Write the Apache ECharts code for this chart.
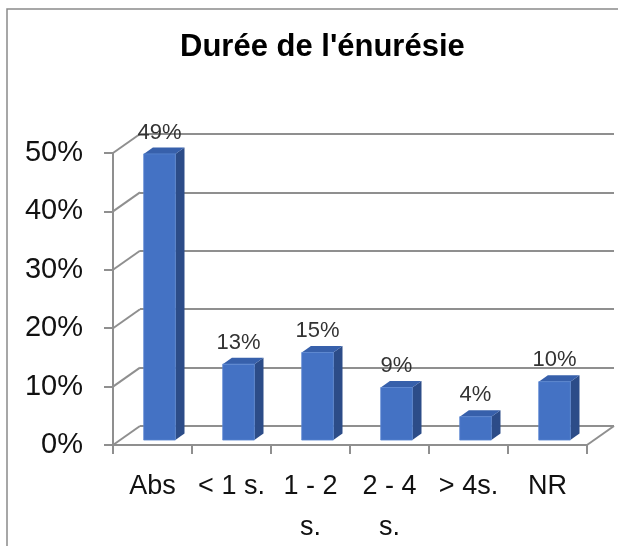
<!DOCTYPE html>
<html>
<head>
<meta charset="utf-8">
<script src="https://cdn.jsdelivr.net/npm/echarts@6/dist/echarts.min.js"></script>
<style>
  html, body { margin: 0; padding: 0; background: #fff; }
  #main { width: 618px; height: 546px; }
</style>
</head>
<body>
<div id="main"></div>
<script>
// data
const categories = ['Abs', '< 1 s.', '1 - 2\ns.', '2 - 4\ns.', '> 4s.', 'NR'];
const values = [49, 13, 15, 9, 4, 10];
const yTicks = [0, 10, 20, 30, 40, 50];

// depth of the 3d box (front plane -> back wall)
const DX = 27, DY = -19;
const gridColor = '#8f8f8f';

const chart = echarts.init(document.getElementById('main'));

function renderBar(params, api) {
  const i = api.value(0), v = api.value(1);
  const band = api.size([1, 0])[0];
  const base = api.coord([i, 0]);
  const top = api.coord([i, v]);
  const w = band * 0.4;
  const x0 = base[0] - w / 2 + DX * 0.26, x1 = x0 + w;
  const yb = base[1] + DY * 0.26, yt = top[1] + DY * 0.26;
  const ox = DX * 0.34, oy = DY * 0.34;
  return {
    type: 'group',
    children: [
      { type: 'polygon', shape: { points: [[x1, yt], [x1 + ox, yt + oy], [x1 + ox, yb + oy], [x1, yb]] },
        style: { fill: '#2c4c88' } },
      { type: 'polygon', shape: { points: [[x0, yt], [x1, yt], [x1 + ox, yt + oy], [x0 + ox, yt + oy]] },
        style: { fill: '#3760ab' } },
      { type: 'rect', shape: { x: x0, y: yt, width: w, height: yb - yt },
        style: { fill: '#4472c4', stroke: '#5b86d2', lineWidth: 0.8 } },
      { type: 'text', x: (x0 + x1) / 2, y: yt + oy - 4,
        style: { text: v + '%', align: 'center', verticalAlign: 'bottom',
                 fontSize: 22, fontFamily: 'Liberation Sans', fill: '#333' } }
    ]
  };
}

// side wall diagonals and floor edge, from the front axis ticks back to the wall
function renderWalls(params, api) {
  const v = api.value(0);
  const band = api.size([1, 0])[0];
  const p = api.coord([0, v]);
  const xl = p[0] - band / 2;
  const lines = [
    { type: 'line', shape: { x1: xl, y1: p[1], x2: xl + DX, y2: p[1] + DY },
      style: { stroke: gridColor, lineWidth: 2 } }
  ];
  if (v === 0) {
    const q = api.coord([categories.length - 1, 0]);
    const xr = q[0] + band / 2;
    lines.push({ type: 'line', shape: { x1: xr, y1: q[1], x2: xr + DX, y2: q[1] + DY },
      style: { stroke: gridColor, lineWidth: 2 } });
  }
  return { type: 'group', children: lines };
}

const option = {
  backgroundColor: '#fff',
  animation: false,
  title: {
    text: "Durée de l'énurésie",
    left: 175, top: 27,
    textStyle: { fontSize: 31, fontWeight: 'bold', fontFamily: 'Liberation Sans', color: '#000' }
  },
  graphic: [{
    type: 'rect', shape: { x: 7, y: 9, width: 700, height: 700 },
    style: { fill: 'none', stroke: '#8a8a8a', lineWidth: 1.5 }, silent: true, z: -10
  }],
  grid: [
    { left: 113, right: 31, top: 153, bottom: 101, containLabel: false, outerBoundsMode: 'none' },
    { left: 140, right: 4, top: 134, bottom: 120, containLabel: false, outerBoundsMode: 'none' }
  ],
  xAxis: [
    {
      type: 'category', gridIndex: 0, data: categories,
      axisLine: { lineStyle: { color: gridColor, width: 2 } },
      axisTick: { show: true, length: 9, lineStyle: { color: gridColor, width: 2 } },
      axisLabel: { interval: 0, fontSize: 27, lineHeight: 41, margin: 21,
                   color: '#111', fontFamily: 'Liberation Sans' }
    },
    { type: 'category', gridIndex: 1, data: categories, show: false }
  ],
  yAxis: [
    {
      type: 'value', gridIndex: 0, min: 0, max: 50, interval: 10,
      axisLine: { show: true, lineStyle: { color: gridColor, width: 2 } },
      axisTick: { show: true, length: 9, lineStyle: { color: gridColor, width: 2 } },
      axisLabel: { formatter: '{value}%', fontSize: 29, margin: 30, color: '#111',
                   fontFamily: 'Liberation Sans' },
      splitLine: { show: false }
    },
    {
      type: 'value', gridIndex: 1, min: 0, max: 50, interval: 10,
      axisLine: { show: false }, axisTick: { show: false }, axisLabel: { show: false },
      splitLine: { show: true, lineStyle: { color: gridColor, width: 2 } }
    }
  ],
  series: [
    {
      type: 'custom', xAxisIndex: 0, yAxisIndex: 0, clip: false, z: 1,
      renderItem: renderWalls,
      data: yTicks.map(t => [t])
    },
    {
      type: 'custom', xAxisIndex: 0, yAxisIndex: 0, clip: false, z: 5,
      renderItem: renderBar,
      data: values.map((v, i) => [i, v])
    }
  ]
};

chart.setOption(option);
</script>
</body>
</html>
